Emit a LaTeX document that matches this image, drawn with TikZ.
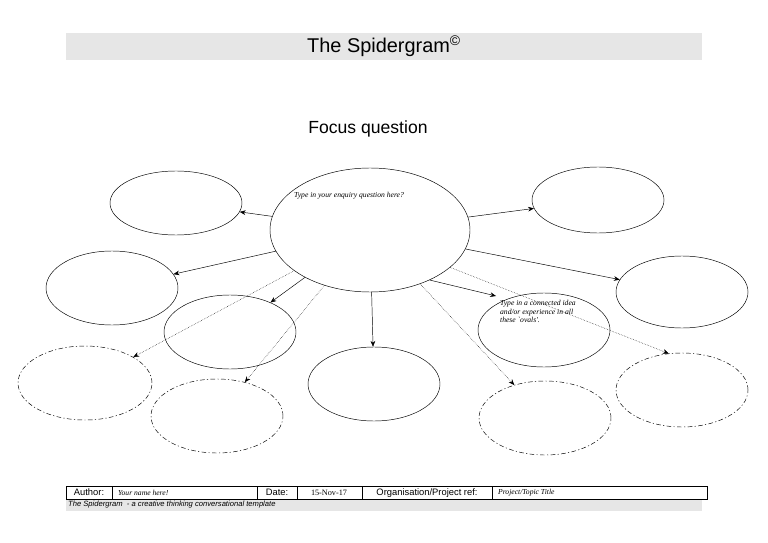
\documentclass[tikz,border=0pt]{standalone}
\usepackage{fontspec}
\setmainfont{Liberation Sans}
\newfontfamily\notefont{Liberation Serif}
\usetikzlibrary{shapes.geometric,arrows.meta}
\definecolor{bargray}{RGB}{230,230,230}
\tikzset{
  oval/.style={draw, ellipse, inner sep=0pt},
  dashoval/.style={oval, dash pattern=on 4pt off 2pt on 1pt off 2pt},
  link/.style={-{Stealth[length=5pt,width=4pt]}, thin},
  dotlink/.style={link, densely dotted},
  note/.style={font=\notefont\itshape\fontsize{6.5}{7.5}\selectfont, align=left}
}
\begin{document}
\begin{tikzpicture}[x=0.03cm, y=-0.03cm]
\useasboundingbox (0,0) rectangle (768,543);
% Title
\fill[bargray] (66,33) rectangle (702,60);
\node (title) at (384,46) {\fontsize{17}{20}\selectfont The Spidergram\textsuperscript{\textcopyright}};
\node (focus) at (368,129) {\fontsize{15}{18}\selectfont Focus question};

% Central oval
\node[oval, minimum width=6cm, minimum height=3.72cm] (hub) at (370,230) {};
\node[note, anchor=north west] (hubtxt) at (290,188) {Type in your enquiry question here?};

% Solid ovals
\node[oval, minimum width=3.96cm, minimum height=1.92cm] (tl) at (176,203) {};
\node[oval, minimum width=3.96cm, minimum height=2.22cm] (ll) at (112,288) {};
\node[oval, minimum width=3.96cm, minimum height=2.22cm] (ml) at (230,332) {};
\node[oval, minimum width=3.96cm, minimum height=2.22cm] (bc) at (374,384) {};
\node[oval, minimum width=3.96cm, minimum height=1.98cm] (tr) at (598,200) {};
\node[oval, minimum width=3.96cm, minimum height=2.16cm] (rr) at (682,292) {};
\node[oval, minimum width=3.96cm, minimum height=2.22cm] (mr) at (544,330) {};
\node[note, anchor=north west] (mrtxt) at (496,296) {Type in a connected idea\\and/or experience in all\\these `ovals'.};

% Dashed ovals
\node[dashoval, minimum width=4.02cm, minimum height=2.22cm] (dl) at (85,383) {};
\node[dashoval, minimum width=3.96cm, minimum height=2.22cm] (dbl) at (217,416) {};
\node[dashoval, minimum width=3.96cm, minimum height=2.22cm] (dbr) at (545,418) {};
\node[dashoval, minimum width=3.96cm, minimum height=2.22cm] (dr) at (682,390) {};

% Connections
\draw[link] (hub) -- (tl);
\draw[link] (hub) -- (ll);
\draw[link] (hub) -- (ml);
\draw[link] (hub) -- (bc);
\draw[link] (hub) -- (tr);
\draw[link] (hub) -- (rr);
\draw[link] (hub.-40) -- (mrtxt.north west);
\draw[dotlink] (hub) -- (dl);
\draw[dotlink] (hub) -- (dbl);
\draw[dotlink] (hub) -- (dbr);
\draw[dotlink] (hub.-25) -- (dr.110);

% Footer
\fill[bargray] (66,499) rectangle (702,511);
\draw[thin] (66,486) rectangle (707,499);
\foreach \xx in {112,257,297,362,492} \draw[thin] (\xx,486) -- (\xx,499);
\node[font=\fontsize{8}{9}\selectfont] (auth) at (89,492.5) {Author:};
\node[note, anchor=west] (authval) at (114,492.5) {Your name here!};
\node[font=\fontsize{8}{9}\selectfont] (date) at (277,492.5) {Date:};
\node[font=\notefont\fontsize{7}{8}\selectfont] (dateval) at (329,492.5) {15-Nov-17};
\node[font=\fontsize{8}{9}\selectfont, anchor=base] (org) at (427,495) {Organisation/Project ref:};
\node[note, anchor=west] (orgval) at (494,492.5) {Project/Topic Title};
\node[font=\itshape\fontsize{6.5}{7.5}\selectfont, anchor=west] (foot) at (64,505) {The Spidergram \ - a creative thinking conversational template};
\end{tikzpicture}
\end{document}
